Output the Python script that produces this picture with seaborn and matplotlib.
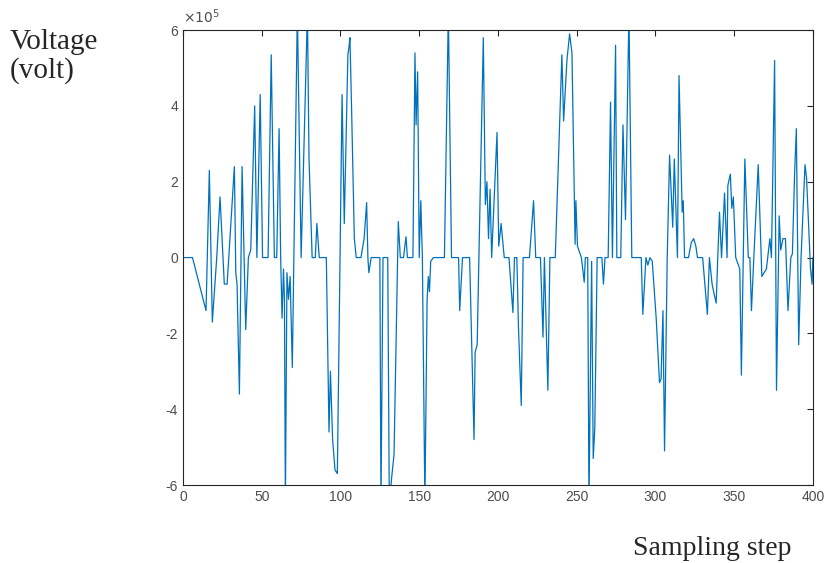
import numpy as np
import pandas as pd
import matplotlib
matplotlib.use("Agg")
import matplotlib.pyplot as plt
from matplotlib.ticker import FuncFormatter
import seaborn as sns

# sampling steps and voltage (in units of 1e5 volt)
steps = [0, 6, 14.6, 16.7, 18.6, 21.4, 23.5, 26.2, 28, 32.6, 33.5, 34.3, 35.8, 37.5, 39.8, 41.5, 43, 45.5, 46.9, 49,
         50.5, 54, 56, 58, 59.5, 61, 62, 62.9, 63.8, 64.4, 65, 66, 67, 68, 69.4, 72.6, 75, 79, 80, 82,
         84, 85, 86.5, 91, 92.7, 93.6, 95, 96.5, 98, 101, 102.4, 104.7, 105.5, 106, 107, 108.8, 110, 113, 115, 116.6,
         117.4, 118, 119.5, 125, 125.7, 127, 130, 131, 132.5, 134, 136.7, 138, 140, 141.6, 142.5, 146, 147.3, 148, 149, 150,
         151, 152, 153.6, 155, 155.8, 156.5, 157.3, 159, 166, 168.5, 170.5, 175, 175.7, 177.5, 182, 184.8, 185.5, 186.8, 190.7, 192,
         193, 194, 195, 196, 199.4, 200.5, 202, 204, 207, 209.5, 210.5, 212, 213, 214.8, 216, 220, 222.6, 224, 227, 228.6,
         229.5, 231.7, 233, 236.4, 240.6, 241.7, 243.8, 245.5, 247, 249, 249.5, 250.5, 253, 254.8, 255.5, 257, 257.8, 259.5, 260.5, 261.5,
         263, 266, 267, 268, 270, 271.5, 272.7, 274.7, 275.5, 278, 279.4, 281, 283.2, 285, 291, 292, 294, 295.2, 296.5, 298,
         300.5, 302.6, 303.6, 304.8, 305.8, 307.5, 309, 311, 312, 314, 315, 317, 317.7, 318.5, 321, 322.8, 324.3, 325.7, 326.7, 330,
         333, 334.3, 336, 337.5, 338.6, 339.6, 340.7, 342, 343.9, 345.5, 346, 347.6, 348.5, 349.5, 351, 353.6, 354.6, 356.8, 359, 360,
         361, 362.5, 365.3, 367.6, 369, 370.5, 372.7, 373.7, 375.7, 376.9, 378.6, 379.6, 381, 382.6, 384.2, 386, 387, 388.4, 389.5, 391,
         392.5, 395, 396, 398.5, 399.5, 400]
volt = [0, 0, -1.4, 2.3, -1.7, 0, 1.6, -0.7, -0.7, 2.4, -0.4, -0.7, -3.6, 2.4, -1.9, 0, 0.2, 4.0, 0, 4.3,
        0, 0, 5.35, 0, 0, 3.4, 0, -1.6, -0.3, -1.1, -6.5, -0.4, -1.1, -0.5, -2.9, 6.5, 0, 6.5, 2.6, 0,
        0, 0.9, 0, 0, -4.6, -3.0, -4.8, -5.6, -5.7, 4.3, 0.9, 5.35, 5.6, 5.8, 4.0, 0.5, 0, 0, 0.5, 1.45,
        0, -0.4, 0, 0, -6.5, 0, 0, -6.5, -5.8, -5.2, 0.95, 0, 0, 0.55, 0, 0, 5.4, 3.5, 4.9, 0,
        1.5, 0, -6.5, -1.1, -0.5, -0.9, -0.1, 0, 0, 6.5, 0, 0, -1.4, 0, 0, -4.8, -2.5, -2.3, 5.8, 1.4,
        2.0, 0.5, 1.8, 0, 3.3, 0.3, 0.9, 0, 0, -1.45, 0, 0, -1.8, -3.9, 0, 0, 1.5, 0, 0, -2.1,
        0, -3.5, 0, 0, 5.35, 3.6, 5.2, 5.9, 5.4, 0.35, 1.5, 0.3, 0, -0.65, 0, 0, -6.5, -0.1, -5.3, -4.5,
        0, 0, -0.7, 0, 0, 4.1, 0, 5.6, 0, 0, 3.5, 1.0, 6.5, 0, 0, -1.5, 0, -0.2, 0, -0.1,
        -1.6, -3.3, -3.2, -1.4, -5.1, 0, 2.7, 0.8, 2.6, 0, 4.8, 1.2, 1.5, 0, 0, 0.4, 0.5, 0.3, 0, 0,
        -1.5, 0, -0.7, -1.0, -1.2, 0, 1.2, 0, 1.7, 0, 1.9, 2.2, 1.3, 1.6, 0, -0.3, -3.1, 2.6, 0, 0,
        -1.4, 0, 2.45, -0.5, -0.4, -0.3, 0.5, 0, 5.2, -3.5, 1.1, 0.2, 0.5, 0.5, -1.4, 0, 0.1, 2.2, 3.4, -2.3,
        0, 2.45, 2.1, -0.3, -0.7, 0]

df = pd.DataFrame({"step": steps, "voltage": np.array(volt) * 1e5})

sns.set_style("white")
plt.rcParams["axes.unicode_minus"] = False
plt.rcParams["font.family"] = ["Liberation Sans", "DejaVu Sans"]

fig = plt.figure(figsize=(8.32, 5.63), dpi=100)
ax = fig.add_axes([0.22, 0.1385, 0.757, 0.808])

sns.lineplot(data=df, x="step", y="voltage", ax=ax, color="#0072BD", linewidth=0.9)

ax.set_xlim(0, 400)
ax.set_ylim(-6e5, 6e5)
ax.set_xticks(np.arange(0, 401, 50))
ax.set_yticks(np.arange(-6e5, 6.1e5, 2e5))
# tick labels in units of 1e5, multiplier shown above the axis like matlab
ax.yaxis.set_major_formatter(FuncFormatter(lambda v, p: "%g" % round(v / 1e5)))
ax.text(0.0, 1.008, r"$\times10^{5}$", transform=ax.transAxes, ha="left", va="bottom",
        fontsize=10, color="#4d4d4d")
ax.set_xlabel("")
ax.set_ylabel("")
ax.tick_params(direction="in", length=4, width=0.8, top=True, right=True,
               labelsize=10, labelcolor="#4d4d4d", color="#262626")
for s in ax.spines.values():
    s.set_color("#262626")
    s.set_linewidth(0.8)

fig.text(0.012, 0.899, "Voltage\n(volt)", ha="left", va="center", fontsize=21,
         family="Liberation Serif", linespacing=1.1)
fig.text(0.856, 0.0142, "Sampling step", ha="center", va="baseline", fontsize=20,
         family="Liberation Serif")

fig.savefig("out.png", dpi=100)
